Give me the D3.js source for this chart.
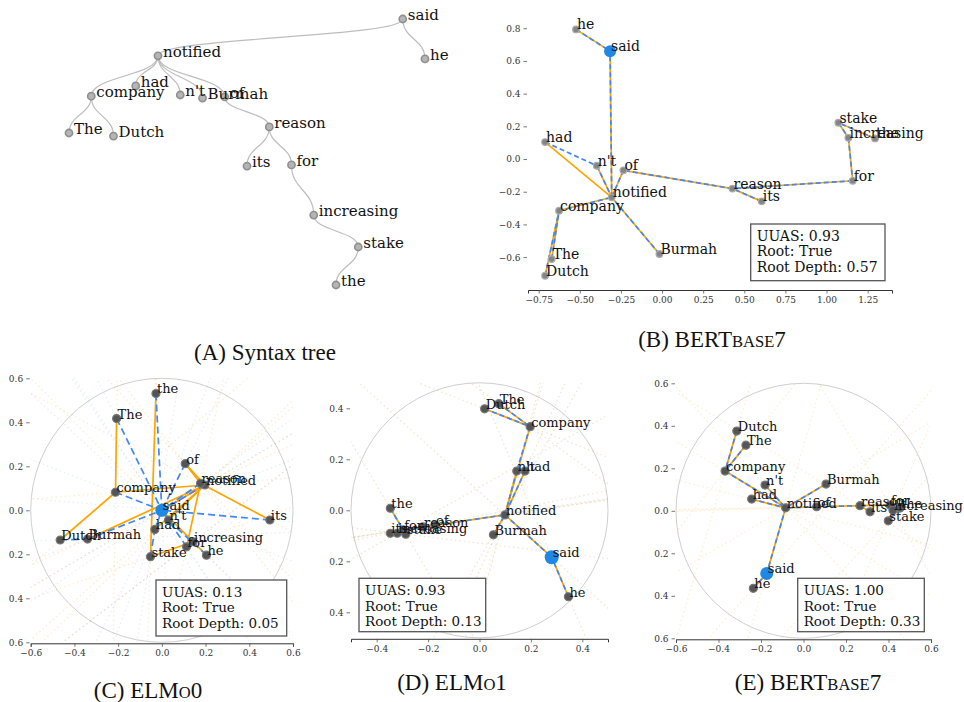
<!DOCTYPE html>
<html><head><meta charset="utf-8">
<script src="https://cdn.jsdelivr.net/npm/d3@7"></script>
<style>
body{margin:0;background:#fff}
svg{display:block}
text{font-family:"DejaVu Serif",serif}
.cap{font-family:"Liberation Serif","Times New Roman",serif;fill:#111}
</style>
</head><body>
<svg id="chart" width="964" height="702"></svg>
<script>
// ---------- DATA ----------
const words = ["The","Dutch","company","had","n't","notified","Burmah","of","its","reason","for","increasing","the","stake","he","said"];
const rootWord = "said";
// gold (syntax) tree edges: [child, head]
const goldEdges = [["notified","said"],["he","said"],["company","notified"],["had","notified"],["n't","notified"],
  ["Burmah","notified"],["of","notified"],["The","company"],["Dutch","company"],["reason","of"],["its","reason"],
  ["for","reason"],["increasing","for"],["stake","increasing"],["the","stake"]];

// (A) syntax tree layout: in-order column and depth level
const treeCol   = [0,2,1,3,5,4,6,7,8,9,10,11,12,13,16,15];
const treeLevel = [3.0,3.08,2.03,1.76,2.0,0.97,2.08,2.05,3.87,2.84,3.84,5.16,7.0,6.0,1.05,0];

// (B) BERTbase7 projection
const bX = [-0.671,-0.711,-0.626,-0.711,-0.397,-0.306,-0.016,-0.235,0.606,0.428,1.159,1.133,1.295,1.072,-0.523,-0.316];
const bY = [-0.612,-0.714,-0.316,0.104,-0.041,-0.234,-0.581,-0.069,-0.259,-0.181,-0.133,0.130,0.126,0.222,0.793,0.660];
const bPred = [["notified","said"],["he","said"],["company","notified"],["had","n't"],["n't","notified"],
  ["Burmah","notified"],["of","notified"],["The","company"],["Dutch","company"],["reason","of"],["its","reason"],
  ["for","reason"],["increasing","for"],["stake","increasing"],["the","stake"]];
const bXTicks = [-0.75,-0.5,-0.25,0,0.25,0.5,0.75,1.0,1.25];
const bYTicks = [-0.6,-0.4,-0.2,0,0.2,0.4,0.6,0.8];

// (C) ELMo0
const cX = [-0.207,-0.465,-0.212,-0.032,0.03,0.197,-0.340,0.107,0.494,0.177,0.113,0.143,-0.027,-0.052,0.204,0.0];
const cY = [0.417,-0.135,0.082,-0.087,-0.045,0.115,-0.131,0.212,-0.044,0.123,-0.166,-0.143,0.531,-0.211,-0.204,0.0];
const cPred = [["the","said"],["The","said"],["company","said"],["of","said"],["its","said"],["Burmah","said"],
  ["Dutch","Burmah"],["notified","said"],["reason","said"],["n't","said"],["had","said"],["stake","had"],
  ["he","n't"],["for","n't"],["increasing","for"]];

// (D) ELMo1
const dX = [0.075,0.020,0.197,0.177,0.145,0.099,0.054,-0.173,-0.347,-0.220,-0.297,-0.320,-0.347,-0.287,0.346,0.281];
const dY = [0.418,0.398,0.328,0.154,0.154,-0.018,-0.096,-0.058,-0.090,-0.065,-0.077,-0.090,0.008,-0.094,-0.339,-0.184];
const dPred = [["notified","said"],["he","said"],["company","n't"],["had","notified"],["n't","notified"],
  ["Burmah","notified"],["of","notified"],["The","company"],["Dutch","company"],["reason","of"],["its","reason"],
  ["for","reason"],["increasing","for"],["stake","increasing"],["the","stake"]];

// (E) BERTbase7
const eX = [-0.271,-0.314,-0.369,-0.244,-0.181,-0.084,0.106,0.062,0.313,0.266,0.407,0.421,0.454,0.399,-0.236,-0.173];
const eY = [0.309,0.375,0.187,0.055,0.121,0.014,0.126,0.019,-0.005,0.024,0.027,0.003,0.013,-0.047,-0.365,-0.295];
const ePred = goldEdges;

const panelUUAS = ["0.93","0.13","0.93","1.00"];
const panelRoot = ["True","True","True","True"];
const panelDepth = ["0.57","0.05","0.13","0.33"];
const symTicks6 = [-0.6,-0.4,-0.2,0,0.2,0.4,0.6];
const symTicks4 = [-0.4,-0.2,0,0.2,0.4];

// ---------- DRAW ----------
const svg = d3.select("#chart");
const ORANGE = "#ffa500", BLUE = "#4287f5", ROOTBLUE = "#1f88e5";
const idx = w => words.indexOf(w);
const minus = s => s.replace("-", "\u2212");

// Panel A
(function(){
  const g = svg.append("g");
  const x = d3.scaleLinear().domain([0,16]).range([69,425]);
  const y = d3.scaleLinear().domain([0,7]).range([19,285]);
  const link = d3.linkVertical().x(d => x(treeCol[d])).y(d => y(treeLevel[d]));
  g.selectAll("path.e").data(goldEdges).join("path")
    .attr("d", e => link({source: idx(e[1]), target: idx(e[0])}))
    .attr("fill","none").attr("stroke","#bdbdbd").attr("stroke-width",1.2);
  g.selectAll("circle").data(words).join("circle")
    .attr("cx",(w,i)=>x(treeCol[i])).attr("cy",(w,i)=>y(treeLevel[i])).attr("r",3.6)
    .attr("fill","#b5b5b5").attr("stroke","#8f8f8f").attr("stroke-width",1.6);
  g.selectAll("text").data(words).join("text")
    .attr("x",(w,i)=>x(treeCol[i])+5).attr("y",(w,i)=>y(treeLevel[i])+1)
    .attr("font-size",15).attr("fill","#111").text(w=>w);
})();

function scatter(o){
  const g = svg.append("g");
  const x = d3.scaleLinear().domain(o.xd).range(o.xr);
  const y = d3.scaleLinear().domain(o.yd).range(o.yr);
  const id = "clip"+o.name;
  g.append("clipPath").attr("id",id).append("rect")
    .attr("x",o.xr[0]).attr("y",o.yr[1]).attr("width",o.xr[1]-o.xr[0]).attr("height",o.yr[0]-o.yr[1]);
  const P = w => [x(o.xs[idx(w)]), y(o.ys[idx(w)])];
  if (o.circleR){
    g.append("ellipse").attr("cx",x(0)).attr("cy",y(0))
      .attr("rx",x(o.circleR)-x(0)).attr("ry",y(0)-y(o.circleR))
      .attr("fill","none").attr("stroke","#cfcfcf").attr("stroke-width",1);
    const faint = g.append("g").attr("clip-path",`url(#${id})`);
    const ext = (e, col, op) => {
      const a = P(e[0]), b = P(e[1]);
      const dx = b[0]-a[0], dy = b[1]-a[1], L = Math.hypot(dx,dy) || 1;
      const k = 600/L;
      faint.append("line").attr("x1",a[0]-dx*k).attr("y1",a[1]-dy*k).attr("x2",b[0]+dx*k).attr("y2",b[1]+dy*k)
        .attr("stroke",col).attr("stroke-opacity",op).attr("stroke-width",1.2).attr("stroke-dasharray","1.5,3");
    };
    goldEdges.forEach(e => ext(e, ORANGE, o.faintO));
    if (o.faintB) o.pred.forEach(e => ext(e, BLUE, o.faintB));
  }
  g.selectAll("line.gold").data(goldEdges).join("line").attr("class","gold")
    .attr("x1",e=>P(e[0])[0]).attr("y1",e=>P(e[0])[1]).attr("x2",e=>P(e[1])[0]).attr("y2",e=>P(e[1])[1])
    .attr("stroke",ORANGE).attr("stroke-width",1.7);
  g.selectAll("line.pred").data(o.pred).join("line").attr("class","pred")
    .attr("x1",e=>P(e[0])[0]).attr("y1",e=>P(e[0])[1]).attr("x2",e=>P(e[1])[0]).attr("y2",e=>P(e[1])[1])
    .attr("stroke",BLUE).attr("stroke-width",1.7).attr("stroke-dasharray",o.dash);
  g.selectAll("circle.n").data(words).join("circle").attr("class","n")
    .attr("cx",(w,i)=>x(o.xs[i])).attr("cy",(w,i)=>y(o.ys[i]))
    .attr("r",w=> w===rootWord ? o.rootR : o.nodeR)
    .attr("fill",w=> w===rootWord ? ROOTBLUE : o.nodeFill)
    .attr("stroke",w=> w===rootWord ? "none" : o.nodeStroke).attr("stroke-width",1.2);
  g.selectAll("text.lab").data(words).join("text").attr("class","lab")
    .attr("x",(w,i)=>x(o.xs[i])+1).attr("y",(w,i)=>y(o.ys[i]))
    .attr("font-size",o.fs).attr("fill","#111").text(w=>w);
  // axes
  const ax = g.append("g").attr("transform",`translate(0,${o.yr[0]+1})`)
    .call(d3.axisBottom(x).tickValues(o.xt).tickSizeOuter(0).tickSize(3.5).tickPadding(3).tickFormat(o.xf));
  const ay = g.append("g").attr("transform",`translate(${o.xr[0]-1},0)`)
    .call(d3.axisLeft(y).tickValues(o.yt).tickSize(3.5).tickPadding(3).tickFormat(o.yf));
  ay.select(".domain").remove();
  [ax,ay].forEach(a=>{
    a.selectAll("text").attr("font-family","DejaVu Serif").attr("font-size",9).attr("fill","#333");
    a.selectAll(".tick line").attr("stroke","#555").attr("stroke-width",0.8);
    a.select(".domain").attr("stroke","#333").attr("stroke-width",1);
  });
  // info box
  const b = o.box;
  g.append("rect").attr("x",b[0]).attr("y",b[1]).attr("width",b[2]).attr("height",b[3])
    .attr("fill","#fff").attr("stroke","#555").attr("stroke-width",1.3);
  [`UUAS: ${panelUUAS[o.k]}`,`Root: ${panelRoot[o.k]}`,`Root Depth: ${panelDepth[o.k]}`].forEach((t,i)=>{
    g.append("text").attr("x",b[0]+6).attr("y",b[1]+16.5+i*15.8).attr("font-size",o.bfs).attr("fill","#111").text(t);
  });
}

const f2 = d => minus(d3.format(".2f")(d));
const f1 = d => minus(d3.format(".1f")(d));
const fabs = d => d3.format(".1f")(Math.abs(d));

scatter({name:"B",k:0,xs:bX,ys:bY,pred:bPred,xd:[-0.815,1.398],xr:[528,892],yd:[-0.795,0.9],yr:[289,11.9],
  xt:bXTicks,yt:bYTicks,xf:f2,yf:f1,dash:"5,3",nodeR:3.3,rootR:6,nodeFill:"#858585",nodeStroke:"#aaa",fs:14,
  box:[750.7,224,134.3,56.7],bfs:14});
scatter({name:"C",k:1,xs:cX,ys:cY,pred:cPred,xd:[-0.6,0.6],xr:[30.7,293],yd:[-0.6,0.6],yr:[642.3,378.3],
  xt:symTicks6,yt:symTicks6,xf:f1,yf:fabs,dash:"7,4",nodeR:4,rootR:6.5,nodeFill:"#555",nodeStroke:"#777",fs:13,
  circleR:0.6,faintO:0.22,faintB:0.15,box:[156,580,130.7,56],bfs:13.5});
scatter({name:"D",k:2,xs:dX,ys:dY,pred:dPred,xd:[-0.5,0.5],xr:[351,608],yd:[-0.5,0.5],yr:[637.8,382.8],
  xt:symTicks4,yt:symTicks4,xf:f1,yf:fabs,dash:"5,3",nodeR:4,rootR:7,nodeFill:"#555",nodeStroke:"#777",fs:13,
  circleR:0.5,faintO:0.2,faintB:0.08,box:[359,578.3,126.7,53.4],bfs:13.5});
scatter({name:"E",k:3,xs:eX,ys:eY,pred:ePred,xd:[-0.6,0.6],xr:[676,931],yd:[-0.6,0.6],yr:[638.3,383.3],
  xt:symTicks6,yt:symTicks6,xf:f1,yf:fabs,dash:"5,3",nodeR:4,rootR:6.5,nodeFill:"#555",nodeStroke:"#777",fs:13,
  circleR:0.6,faintO:0.2,faintB:0,box:[797.7,578.3,126.6,53.4],bfs:13.5});

// captions
const captions = [
  {cx:265, by:360, parts:[["(A) Syntax tree",1]]},
  {cx:712, by:347, parts:[["(B) BERT",1],["BASE",0.72],["7",1]]},
  {cx:148, by:698, parts:[["(C) ELM",1],["O",0.72],["0",1]]},
  {cx:452, by:690, parts:[["(D) ELM",1],["O",0.72],["1",1]]},
  {cx:808, by:690, parts:[["(E) BERT",1],["BASE",0.72],["7",1]]}
];
captions.forEach(c=>{
  const t = svg.append("text").attr("class","cap").attr("x",c.cx).attr("y",c.by).attr("text-anchor","middle").attr("font-size",23);
  c.parts.forEach(p=> t.append("tspan").attr("font-size",23*p[1]).text(p[0]));
});
</script>
</body></html>
